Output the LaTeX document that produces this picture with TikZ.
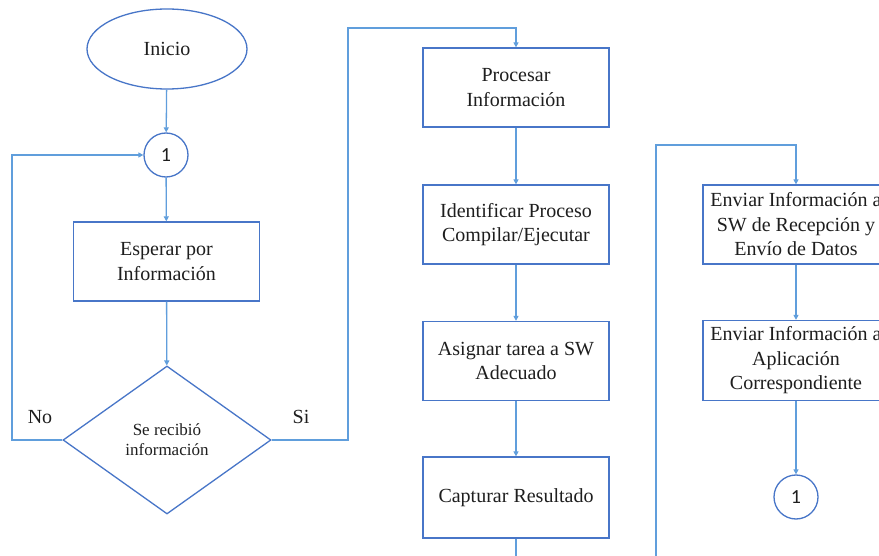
\documentclass[tikz,border=0pt]{standalone}
\usepackage{fontspec}
\setmainfont{Liberation Serif}
\newfontfamily\numfont{Carlito}
\usetikzlibrary{shapes.geometric,arrows.meta}
\definecolor{boxcol}{RGB}{72,118,200}
\definecolor{linecol}{RGB}{96,158,220}
\definecolor{txtcol}{RGB}{30,30,30}
\tikzset{
  box/.style={draw=boxcol, line width=1.3pt, rectangle, minimum width=186pt, minimum height=79pt, inner sep=0pt, align=center, text=txtcol, font=\fontsize{20}{24.5}\selectfont},
  term/.style={draw=boxcol, line width=1.3pt, ellipse, minimum width=160pt, minimum height=80pt, inner sep=0pt, text=txtcol, font=\fontsize{20}{24.5}\selectfont},
  conn/.style={draw=boxcol, line width=1.3pt, circle, minimum size=44pt, inner sep=0pt, text=txtcol, font=\numfont\fontsize{20}{22}\selectfont},
  decision/.style={draw=boxcol, line width=1.3pt, diamond, minimum width=208pt, minimum height=148pt, inner sep=0pt, align=center, text=txtcol, font=\fontsize{17}{20}\selectfont},
  lbl/.style={text=txtcol, font=\fontsize{20}{24}\selectfont, inner sep=0pt},
  flow/.style={draw=linecol, line width=1.3pt},
  arr/.style={flow, -{Triangle[length=5pt,width=5pt]}}
}
\begin{document}
\begin{tikzpicture}[x=1pt,y=-1pt]
\useasboundingbox (0,0) rectangle (879,556);
\clip (0,0) rectangle (879,556);
\fill[white] (0,0) rectangle (879,556);

\node[term] (inicio) at (167,49) {\raisebox{-2pt}{Inicio}};
\node[conn] (c1) at (166,155) {1};
\node[box] (esperar) at (166.5,261.5) {Esperar por\\Información};
\node[decision] (dec) at (167,440) {Se recibió\\información};
\node[lbl] (no) at (40,417) {No};
\node[lbl] (si) at (301,417) {Si};

\node[box] (procesar) at (516,87.5) {Procesar\\Información};
\node[box] (ident) at (516,224.5) {Identificar Proceso\\Compilar/Ejecutar};
\node[box] (asignar) at (516,361) {Asignar tarea a SW\\Adecuado};
\node[box, minimum height=81pt] (captura) at (516,497.5) {Capturar Resultado};

\node[box] (enviar1) at (796,224.5) {Enviar Información a\\SW de Recepción y\\Envío de Datos};
\node[box, minimum height=80pt] (enviar2) at (796,360.5) {Enviar Información a\\Aplicación\\Correspondiente};
\node[conn] (c2) at (796,497) {1};

\coordinate (nl) at (12,440);
\coordinate (sa) at (348,28);
\coordinate (cb) at (516,570);
\coordinate (eb) at (656,570);
\coordinate (et) at (656,145);

\draw[arr] (inicio) -- (c1);
\draw[arr] (c1) -- (esperar);
\draw[arr] (esperar) -- (dec);
\draw[arr] (dec.west) -- (nl) |- (c1.west);
\draw[arr] (dec.east) -| (sa) -| (procesar.north);
\draw[arr] (procesar) -- (ident);
\draw[arr] (ident) -- (asignar);
\draw[arr] (asignar) -- (captura);
\draw[flow] (captura.south) -- (cb);
\draw[arr] (eb) -- (et) -| (enviar1.north);
\draw[arr] (enviar1) -- (enviar2);
\draw[arr] (enviar2) -- (c2);
\end{tikzpicture}
\end{document}
